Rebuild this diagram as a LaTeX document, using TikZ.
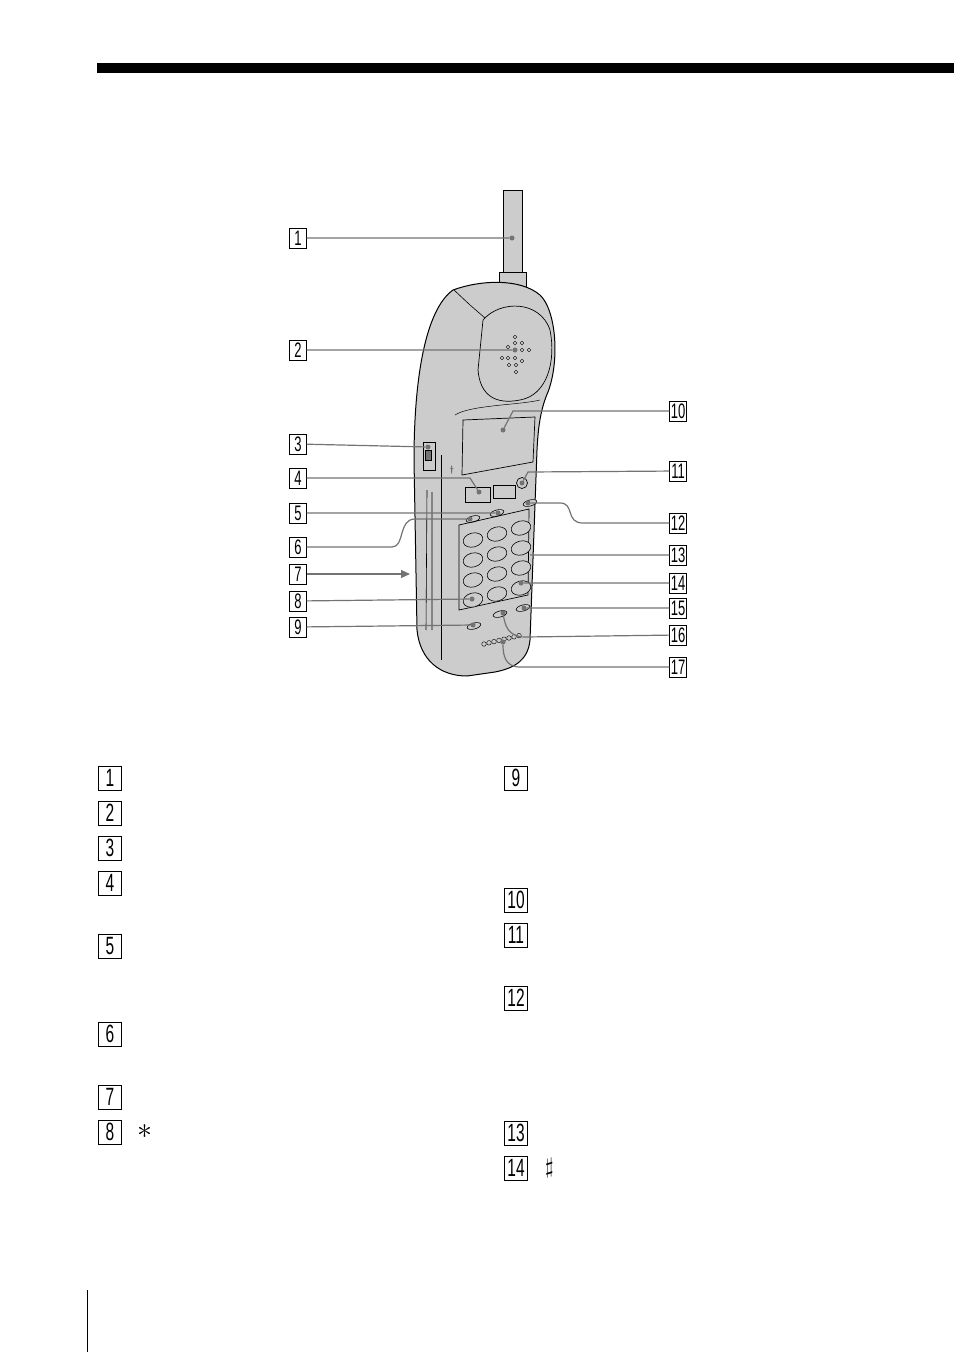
\documentclass[tikz,border=0pt]{standalone}
\usepackage{fontspec}
\setmainfont{Liberation Sans}
\usetikzlibrary{arrows.meta,positioning,shapes.geometric}
\definecolor{bodygray}{gray}{0.80}
\definecolor{linegray}{gray}{0.45}
\newcommand{\narrow}[1]{\scalebox{0.62}[1]{#1}}
\tikzset{
  numbox/.style={draw,thin,inner sep=0pt,minimum width=17pt,minimum height=20pt,font=\fontsize{21}{21}\selectfont},
  bignum/.style={draw,thin,inner sep=0pt,minimum width=23pt,minimum height=24pt,font=\fontsize{25}{25}\selectfont},
  leader/.style={draw=linegray,line width=1.2pt},
  tip/.style={circle,fill=linegray,inner sep=0pt,minimum size=5pt},
  keyoval/.style={draw,fill=bodygray,ellipse,inner sep=0pt,line width=0.6pt}
}
\begin{document}
\begin{tikzpicture}[x=1pt,y=-1pt]
	\useasboundingbox (0,0) rectangle (954,1352);
	% page rules
	\fill (97,63) rectangle (954,73);
	\draw[line width=1pt] (87,1290) -- (87,1352);

	% antenna
	\draw[fill=bodygray,line width=0.8pt] (503,190) rectangle (522,275);
	\draw[fill=bodygray,line width=0.8pt] (499,272) rectangle (526,290);
	% handset body
	\draw[fill=bodygray,line width=1pt]
		(453,290) .. controls (480,280) and (520,278) .. (540,295)
		.. controls (556,310) and (560,360) .. (548,392)
		.. controls (540,410) and (538,430) .. (537,450)
		-- (530,640) .. controls (528,660) and (515,668) .. (495,672)
		-- (467,676) .. controls (440,676) and (420,660) .. (417,630)
		-- (414,460) .. controls (414,380) and (425,310) .. (453,290) -- cycle;
	% speaker cup
	\draw[line width=0.7pt] (483,320) .. controls (500,300) and (540,300) .. (550,330)
		.. controls (556,360) and (548,395) .. (520,400)
		.. controls (495,405) and (480,395) .. (478,370) -- cycle;
	\draw[line width=0.6pt] (454,290) -- (470,305) -- (485,318);
	\foreach \hx/\hy in {515/337,515/343,522/343,508/347,515/350,522/350,529/350,502/358,508/358,515/358,522/361,509/365,516/365,516/372}
		\draw[line width=0.4pt] (\hx,\hy) circle (1.8);
	% display
	\draw[line width=0.7pt] (463,420) -- (535,417) -- (533,462) -- (462,475) -- cycle;
	\draw[line width=0.5pt] (455,415) .. controls (470,405) and (520,405) .. (540,400);
	% side slider and groove
	\draw[line width=0.7pt] (423,442) rectangle (435,470);
	\draw[fill=linegray] (425,450) rectangle (431,460);
	\draw[line width=0.6pt] (427,490) -- (426,630) (432,492) -- (432,630);
	\draw[line width=0.5pt] (441,455) -- (441,660);
	\node[font=\small] (mk) at (452,470) {$\dagger$};
	% upper buttons
	\draw[line width=0.7pt] (465,487) rectangle (490,502) (493,485) rectangle (515,498);
	\draw[fill=bodygray,line width=0.7pt] (522,483) circle (5.5);
	\node[keyoval,minimum width=14pt,minimum height=6pt,rotate=15] (b12) at (530,503) {};
	\node[keyoval,minimum width=14pt,minimum height=6pt,rotate=15] (b5) at (497,513) {};
	\node[keyoval,minimum width=14pt,minimum height=6pt,rotate=15] (b6) at (473,519) {};
	% keypad
	\draw[line width=0.7pt] (459,525) -- (529,509) -- (528,595) -- (459,610) -- cycle;
	\foreach \r in {0,1,2,3}
		\foreach \c in {0,1,2}
			\node[keyoval,minimum width=20pt,minimum height=14pt,rotate=15] (k\r\c) at (473+\c*24,540+\r*20-\c*6) {};
	% lower buttons
	\node[keyoval,minimum width=14pt,minimum height=6pt,rotate=15] (b15) at (523,608) {};
	\node[keyoval,minimum width=14pt,minimum height=6pt,rotate=15] (b16) at (500,614) {};
	\node[keyoval,minimum width=14pt,minimum height=6pt,rotate=15] (b9) at (474,626) {};
	\foreach \m in {0,...,7}
		\draw[line width=0.4pt] (484+\m*5,644-\m*1.2) circle (2.3);

	% callout numbers
	\foreach \i/\y in {1/238,2/350,3/444,4/478,5/513,6/547,7/574,8/601,9/627}
		\node[numbox] (n\i) at (298,\y) {\narrow{\i}};
	\foreach \i/\y in {10/411,11/471,12/523,13/555,14/583,15/608,16/635,17/667}
		\node[numbox] (n\i) at (678,\y) {\narrow{\i}};

	% leader ends
	\node[tip] (e1) at (512,238) {};
	\node[tip] (e2) at (515,350) {};
	\node[tip] (e3) at (428,447) {};
	\node[tip] (e4) at (479,492) {};
	\node[tip] (e5) at (498,513) {};
	\node[tip] (e6) at (470,519) {};
	\node[tip] (e8) at (472,599) {};
	\node[tip] (e9) at (473,625) {};
	\node[tip] (e10) at (503,430) {};
	\node[tip] (e11) at (522,483) {};
	\node[tip] (e12) at (528,503) {};
	\coordinate (e13) at (530,555);
	\node[tip] (e14) at (521,583) {};
	\node[tip] (e15) at (524,608) {};
	\node[tip] (e16) at (503,613) {};
	\node[tip] (e17) at (503,642) {};

	\path[leader] (n1) -- (e1) (n2) -- (e2) (n3) -- (e3) (n5) -- (e5)
		(n8) -- (e8) (n9) -- (e9) (n14) -- (e14) (n15) -- (e15) (n13) -- (e13);
	\path[leader] (n4) -- (470,478) -- (e4);
	\path[leader] (n6) -- (392,547) .. controls (405,547) and (398,519) .. (415,519) -- (e6);
	\path[leader] (n10) -- (513,411) -- (e10);
	\path[leader] (n11) -- (528,472) -- (e11);
	\path[leader] (n12) -- (583,523) .. controls (565,523) and (575,503) .. (560,503) -- (e12);
	\path[leader] (n16) -- (525,637) .. controls (508,637) and (505,625) .. (e16);
	\path[leader] (n17) -- (520,667) .. controls (505,667) and (503,655) .. (e17);
	\coordinate (e7) at (410,574);
	\draw[leader,-{Triangle[length=9pt,width=8pt]},linegray] (n7) -- (e7);

	% list markers
	\foreach \i/\y in {1/778,2/813,3/848,4/883,5/946,6/1034,7/1097,8/1132}
		\node[bignum] (l\i) at (110,\y) {\narrow{\i}};
	\foreach \i/\y in {9/778,10/900,11/935,12/998,13/1133,14/1168}
		\node[bignum] (l\i) at (516,\y) {\narrow{\i}};
	\node[right=12pt of l8] (star) {\scalebox{3}{$\ast$}};
	\node[right=14pt of l14] (hash) {\scalebox{2.2}{$\sharp$}};
\end{tikzpicture}
\end{document}
